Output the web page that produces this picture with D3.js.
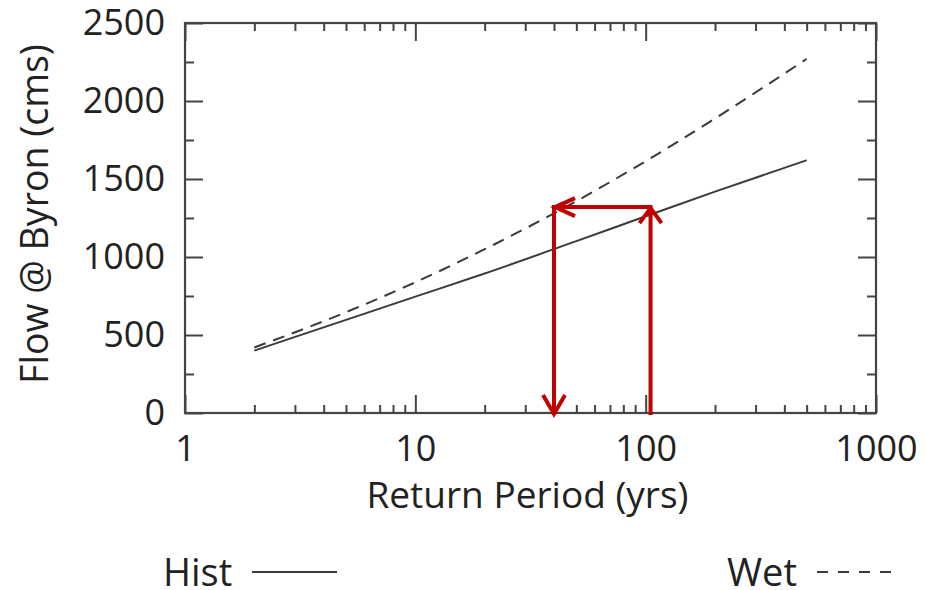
<!DOCTYPE html>
<html>
<head>
<meta charset="utf-8">
<script src="https://cdn.jsdelivr.net/npm/d3@7"></script>
<style>
  html, body { margin: 0; padding: 0; background: #fff; }
  svg { display: block; }
  text { font-family: "Open Sans", "Noto Sans", sans-serif; fill: #222; }
</style>
</head>
<body>
<svg id="chart" width="925" height="590"></svg>
<script>
// ---- data ----
const returnPeriods = [2, 5, 10, 20, 50, 100, 200, 500];
const histFlow = [400, 597, 746, 894, 1102, 1261, 1419, 1620];
const wetFlow  = [420, 646, 838, 1050, 1358, 1614, 1888, 2270];
const xTickLabels = [1, 10, 100, 1000];
const yTickLabels = [0, 500, 1000, 1500, 2000, 2500];
const seriesNames = ["Hist", "Wet"];
// annotation: ~100-yr Hist flow maps to ~40-yr Wet flow
const arrowFromRP = 105;
const arrowToRP = 40;
const arrowFlow = 1320;

(function () {
// ---- layout ----
const svg = d3.select("#chart");
const pLeft = 185, pRight = 876, pTop = 23, pBottom = 413;
const x = d3.scaleLog().domain([1, 1000]).range([pLeft, pRight]);
const y = d3.scaleLinear().domain([0, 2500]).range([pBottom, pTop]);

const frameColor = "#444";
const lineColor = "#3a3a3a";
const red = "#c00000";
const fs = 36;

// minor ticks
const xMinor = [];
for (let d = 1; d < 1000; d *= 10) for (let k = 2; k <= 9; k++) xMinor.push(d * k);
const yMinor = d3.range(250, 2500, 500);

function styleAxis(g) {
  g.select(".domain").remove();
  g.selectAll(".tick line").attr("stroke", frameColor).attr("stroke-width", 2);
}

// bottom axis
svg.append("g").attr("transform", `translate(0,${pBottom})`)
  .call(d3.axisBottom(x).tickValues(xMinor).tickSize(-8).tickFormat(""))
  .call(styleAxis);
svg.append("g").attr("transform", `translate(0,${pBottom})`)
  .call(d3.axisBottom(x).tickValues(xTickLabels).tickSize(-18).tickPadding(22).tickFormat(d3.format("d")))
  .call(styleAxis)
  .call(g => g.selectAll("text").attr("font-size", fs).attr("fill", "#222")
    .style("font-family", '"Open Sans", sans-serif'));
// top axis
svg.append("g").attr("transform", `translate(0,${pTop})`)
  .call(d3.axisTop(x).tickValues(xMinor).tickSize(-8).tickFormat(""))
  .call(styleAxis);
svg.append("g").attr("transform", `translate(0,${pTop})`)
  .call(d3.axisTop(x).tickValues(xTickLabels).tickSize(-18).tickFormat(""))
  .call(styleAxis);
// left axis
svg.append("g").attr("transform", `translate(${pLeft},0)`)
  .call(d3.axisLeft(y).tickValues(yMinor).tickSize(-9).tickFormat(""))
  .call(styleAxis);
svg.append("g").attr("transform", `translate(${pLeft},0)`)
  .call(d3.axisLeft(y).tickValues(yTickLabels).tickSize(-18).tickPadding(20).tickFormat(d3.format("d")))
  .call(styleAxis)
  .call(g => g.selectAll("text").attr("font-size", fs).attr("fill", "#222")
    .style("font-family", '"Open Sans", sans-serif'));
// right axis
svg.append("g").attr("transform", `translate(${pRight},0)`)
  .call(d3.axisRight(y).tickValues(yMinor).tickSize(-9).tickFormat(""))
  .call(styleAxis);
svg.append("g").attr("transform", `translate(${pRight},0)`)
  .call(d3.axisRight(y).tickValues(yTickLabels).tickSize(-18).tickFormat(""))
  .call(styleAxis);

// frame
svg.append("rect").attr("x", pLeft).attr("y", pTop)
  .attr("width", pRight - pLeft).attr("height", pBottom - pTop)
  .attr("fill", "none").attr("stroke", frameColor).attr("stroke-width", 2.2);

// series lines
const line = d3.line().x(d => x(d[0])).y(d => y(d[1])).curve(d3.curveMonotoneX);
const histData = returnPeriods.map((t, i) => [t, histFlow[i]]);
const wetData = returnPeriods.map((t, i) => [t, wetFlow[i]]);
svg.append("path").datum(histData).attr("d", line)
  .attr("fill", "none").attr("stroke", lineColor).attr("stroke-width", 2);
svg.append("path").datum(wetData).attr("d", line)
  .attr("fill", "none").attr("stroke", lineColor).attr("stroke-width", 2)
  .attr("stroke-dasharray", "12,8");

// red arrows
const ax1 = x(arrowFromRP), ax2 = x(arrowToRP), ay = y(arrowFlow), ay0 = y(0);
const redG = svg.append("g").attr("stroke", red).attr("stroke-width", 4)
  .attr("fill", "none").attr("stroke-linecap", "butt").attr("stroke-linejoin", "miter");
redG.append("path").attr("d", `M${ax1},${ay0 + 2}V${ay}H${ax2}V${ay0}`);
// up arrowhead
redG.append("path").attr("d", `M${ax1 - 11},${ay + 16}L${ax1},${ay + 1}L${ax1 + 11},${ay + 16}`);
// left arrowhead
redG.append("path").attr("d", `M${ax2 + 21},${ay - 9}L${ax2 + 1},${ay}L${ax2 + 21},${ay + 9}`);
// down arrowhead
redG.append("path").attr("d", `M${ax2 - 11},${ay0 - 18}L${ax2},${ay0 + 1}L${ax2 + 11},${ay0 - 18}`);

// axis titles
svg.append("text").attr("x", (pLeft + pRight) / 2 - 3).attr("y", 508)
  .attr("text-anchor", "middle").attr("font-size", 37).text("Return Period (yrs)");
svg.append("text").attr("transform", `translate(48,${(pTop + pBottom) / 2 - 4}) rotate(-90)`)
  .attr("text-anchor", "middle").attr("font-size", 37.5).text("Flow @ Byron (cms)");

// legend
const legend = svg.append("g");
legend.append("text").attr("x", 163).attr("y", 586).attr("font-size", 38).text(seriesNames[0]);
legend.append("line").attr("x1", 252).attr("x2", 337).attr("y1", 572).attr("y2", 572)
  .attr("stroke", lineColor).attr("stroke-width", 2);
legend.append("text").attr("x", 727).attr("y", 586).attr("font-size", 38).text(seriesNames[1]);
legend.append("line").attr("x1", 817).attr("x2", 900).attr("y1", 572).attr("y2", 572)
  .attr("stroke", lineColor).attr("stroke-width", 2).attr("stroke-dasharray", "11,10");
})();
</script>
</body>
</html>
